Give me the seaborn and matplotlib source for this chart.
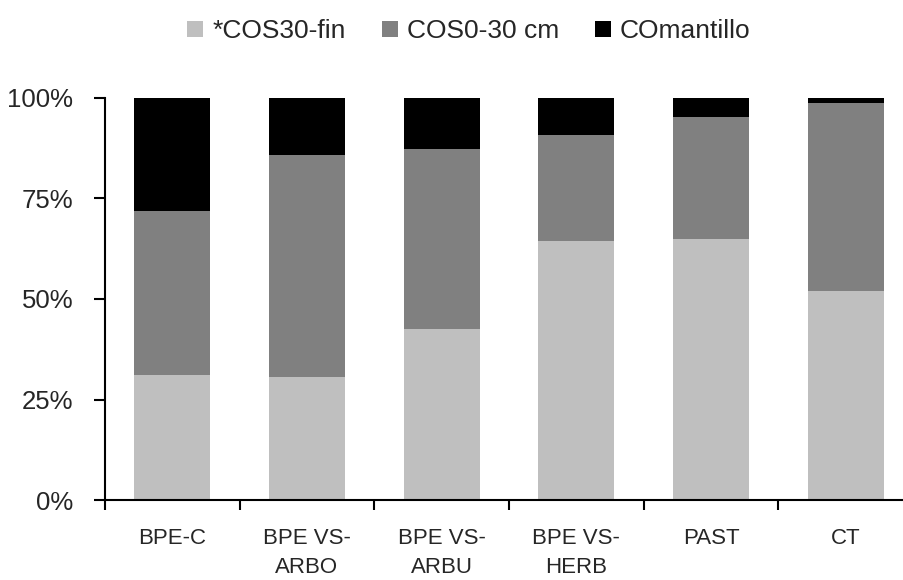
import matplotlib
matplotlib.use("Agg")
import matplotlib.pyplot as plt
import seaborn as sns
import numpy as np
import pandas as pd
from matplotlib.patches import Patch
from matplotlib.ticker import FixedLocator, PercentFormatter

categories = ["BPE-C", "BPE VS-\nARBO", "BPE VS-\nARBU", "BPE VS-\nHERB", "PAST", "CT"]
cos30_fin = [31.1, 30.6, 42.5, 64.4, 64.9, 52.0]
cos0_30 = [40.8, 55.2, 44.8, 26.4, 30.4, 46.8]
co_mantillo = [28.1, 14.2, 12.7, 9.2, 4.7, 1.2]
series_names = ["*COS30-fin", "COS0-30 cm", "COmantillo"]
colors = ["#bfbfbf", "#808080", "#000000"]

sns.set_theme(style="white")
plt.rcParams['font.family'] = ['Liberation Sans', 'DejaVu Sans']

df = pd.DataFrame({"cat": categories, "a": cos30_fin, "b": cos0_30, "c": co_mantillo})
df["l1"] = df["a"]
df["l2"] = df["a"] + df["b"]
df["l3"] = df["a"] + df["b"] + df["c"]

fig = plt.figure(figsize=(9.04, 5.8), dpi=100)
ax = fig.add_axes([105/904, 80/580, (913-105)/904, (500-98)/580])

for col, c in zip(["l3", "l2", "l1"], colors[::-1]):
    sns.barplot(data=df, x="cat", y=col, color=c, width=0.564, ax=ax,
                saturation=1, linewidth=0, edgecolor="none")

ax.set_xlim(-0.5, len(categories) - 0.5)
ax.set_ylim(0, 100)
ax.set_xlabel("")
ax.set_ylabel("")
ax.set_yticks([0, 25, 50, 75, 100])
ax.yaxis.set_major_formatter(PercentFormatter(decimals=0))
ax.xaxis.set_minor_locator(FixedLocator(np.arange(-0.5, len(categories), 1.0)))
ax.tick_params(axis="x", which="major", length=0, pad=20, labelsize=16)
ax.tick_params(axis="x", which="minor", length=7, width=1.5, color="black", direction="out", bottom=True)
ax.tick_params(axis="y", which="major", length=8, width=1.5, color="black", direction="out", left=True, labelsize=18.5, pad=15)
for lab in ax.get_xticklabels():
    lab.set_linespacing(1.5)

sns.despine(ax=ax)
for s in ["left", "bottom"]:
    ax.spines[s].set_color("black")
    ax.spines[s].set_linewidth(1.5)

handles = [Patch(facecolor=c, edgecolor="none") for c in colors]
fig.legend(handles, series_names, loc="center", bbox_to_anchor=(469/904, 1 - 31/580), ncol=3,
           frameon=False, fontsize=19, handlelength=0.61, handleheight=0.57,
           handletextpad=0.34, columnspacing=1.36, borderpad=0, borderaxespad=0)

fig.savefig("out.png", dpi=100)
